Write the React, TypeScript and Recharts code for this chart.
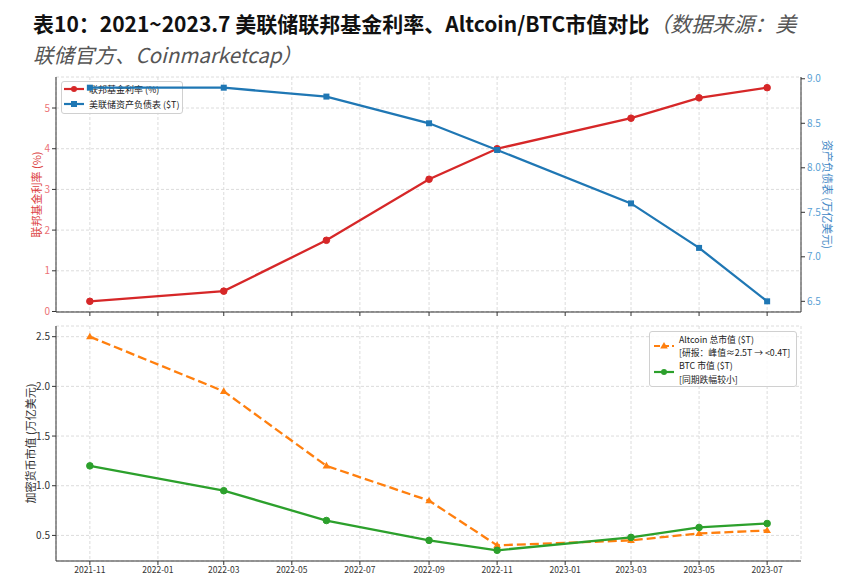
import React from 'react';
import { LineChart, Line, XAxis, YAxis, CartesianGrid } from 'recharts';

// ---------- data ----------
const months = ['2021-11', '2022-03', '2022-06', '2022-09', '2022-11', '2023-03', '2023-05', '2023-07'];
const fedRate = [0.25, 0.5, 1.75, 3.25, 4.0, 4.75, 5.25, 5.5];
const balanceSheet = [8.9, 8.9, 8.8, 8.5, 8.2, 7.6, 7.1, 6.5];
const altcoinCap = [2.5, 1.95, 1.2, 0.85, 0.4, 0.45, 0.52, 0.55];
const btcCap = [1.2, 0.95, 0.65, 0.45, 0.35, 0.48, 0.58, 0.62];

const xTickLabels = ['2021-11', '2022-01', '2022-03', '2022-05', '2022-07', '2022-09', '2022-11', '2023-01', '2023-03', '2023-05', '2023-07'];
const rateTicks = [0, 1, 2, 3, 4, 5];
const balanceTicks = [6.5, 7.0, 7.5, 8.0, 8.5, 9.0];
const cryptoTicks = [0.5, 1.0, 1.5, 2.0, 2.5];

const titleMain = '表10：2021~2023.7 美联储联邦基金利率、Altcoin/BTC市值对比';
const titleSource1 = '（数据来源：美';
const titleSource2 = '联储官方、Coinmarketcap）';
const rateLabel = '联邦基金利率 (%)';
const balanceLabel = '资产负债表 (万亿美元)';
const cryptoLabel = '加密货币市值 (万亿美元)';
const topLegend = ['联邦基金利率 (%)', '美联储资产负债表 ($T)'];
const bottomLegend = [
  ['Altcoin 总市值 ($T)', '[研报：峰值≈2.5T → <0.4T]'],
  ['BTC 市值 ($T)', '[同期跌幅较小]'],
];

// ---------- helpers ----------
const toTs = (s: string) => {
  const [y, m] = s.split('-').map(Number);
  return Date.UTC(y, m - 1, 1);
};
const data = months.map((m, i) => ({
  t: toTs(m),
  fed: fedRate[i],
  bs: balanceSheet[i],
  alt: altcoinCap[i],
  btc: btcCap[i],
}));
const xTicks = xTickLabels.map(toTs);
const tickLabelMap = new Map<number, string>(xTickLabels.map((l) => [toTs(l), l]));

const padDomain = (vals: number[]): [number, number] => {
  const lo = Math.min(...vals);
  const hi = Math.max(...vals);
  const p = (hi - lo) * 0.05;
  return [lo - p, hi + p];
};
const xDomain = padDomain(data.map((d) => d.t));
const rateDomain = padDomain(fedRate);
const balanceDomain = padDomain(balanceSheet);
const cryptoDomain = padDomain([...altcoinCap, ...btcCap]);

const FONT = '"Noto Sans CJK SC", "Noto Sans", sans-serif';
const RED = '#d62728';
const BLUE = '#1f77b4';
const ORANGE = '#ff7f0e';
const GREEN = '#2ca02c';
const SPINE = '#333333';
const GRID = '#dcdcdc';

const circleDot = (color: string, r: number) => (props: any) => {
  const { cx, cy, index } = props;
  if (cx == null || cy == null) return <g key={`c-${index}`} />;
  return <circle key={`c-${index}`} cx={cx} cy={cy} r={r} fill={color} stroke={color} strokeWidth={1} />;
};
const squareDot = (color: string, s: number) => (props: any) => {
  const { cx, cy, index } = props;
  if (cx == null || cy == null) return <g key={`s-${index}`} />;
  return <rect key={`s-${index}`} x={cx - s / 2} y={cy - s / 2} width={s} height={s} fill={color} />;
};
const triangleDot = (color: string, s: number) => (props: any) => {
  const { cx, cy, index } = props;
  if (cx == null || cy == null) return <g key={`t-${index}`} />;
  return (
    <path
      key={`t-${index}`}
      d={`M${cx},${cy - s} L${cx + s * 0.95},${cy + s * 0.65} L${cx - s * 0.95},${cy + s * 0.65} Z`}
      fill={color}
    />
  );
};

const vLabel = (text: string, x: number, y: number, color: string, angle: number) => () => (
  <text
    x={x}
    y={y}
    fill={color}
    fontSize={11}
    fontFamily={FONT}
    textAnchor="middle"
    dominantBaseline="central"
    transform={`rotate(${angle}, ${x}, ${y})`}
  >
    {text}
  </text>
);

const Handle = ({ color, marker, dashed }: { color: string; marker: 'circle' | 'square' | 'triangle'; dashed?: boolean }) => (
  <svg width={22} height={10} style={{ display: 'block' }}>
    <line x1={1} y1={5} x2={21} y2={5} stroke={color} strokeWidth={2.2} strokeDasharray={dashed ? '6 3' : undefined} />
    {marker === 'circle' && <circle cx={11} cy={5} r={3} fill={color} />}
    {marker === 'square' && <rect x={8} y={2} width={6} height={6} fill={color} />}
    {marker === 'triangle' && <path d="M11,1 L14.8,7.6 L7.2,7.6 Z" fill={color} />}
  </svg>
);

const legendLine = (text: string, left: number, top: number) => (
  <div style={{ position: 'absolute', left, top, height: 13, lineHeight: '13px', whiteSpace: 'nowrap' }}>{text}</div>
);

export default function App() {
  return (
    <div style={{ position: 'absolute', left: 0, top: 0, width: 860, height: 584, background: '#fff', fontFamily: FONT, overflow: 'hidden' }}>
      {/* title */}
      <div style={{ position: 'absolute', left: 33, top: 9, width: 820, lineHeight: '29px', fontFamily: FONT, whiteSpace: 'nowrap' }}>
        <span style={{ fontWeight: 700, color: '#111', fontSize: 21 }}>{titleMain}</span>
        <span style={{ fontStyle: 'italic', color: '#555', fontWeight: 400, fontSize: 21 }}>{titleSource1}</span>
        <br />
        <span style={{ fontStyle: 'italic', color: '#555', fontWeight: 400, fontSize: 20.5 }}>{titleSource2}</span>
      </div>

      {/* top panel, layer 1: grid, left axis, red line */}
      <div style={{ position: 'absolute', left: 0, top: 0 }}>
        <LineChart width={860} height={330} data={data} margin={{ top: 77, right: 59, bottom: 8, left: 16 }}>
          <CartesianGrid stroke={GRID} strokeDasharray="3 2" />
          <XAxis
            dataKey="t"
            type="number"
            domain={xDomain}
            ticks={xTicks}
            interval={0}
            allowDataOverflow
            height={10}
            tickSize={4}
            tickFormatter={() => ''}
            axisLine={{ stroke: SPINE }}
            tickLine={{ stroke: SPINE }}
          />
          <XAxis
            xAxisId="top"
            orientation="top"
            dataKey="t"
            type="number"
            domain={xDomain}
            allowDataOverflow
            height={0}
            tick={false}
            tickLine={false}
            axisLine={{ stroke: SPINE }}
          />
          <YAxis
            type="number"
            domain={rateDomain}
            ticks={rateTicks}
            interval={0}
            allowDataOverflow
            width={40}
            tickSize={4}
            tick={{ fill: '#ec7276', fontSize: 10, fontFamily: FONT }}
            axisLine={{ stroke: SPINE }}
            tickLine={{ stroke: SPINE }}
            label={{ content: vLabel(rateLabel, 36, 194.5, '#dc3f42', -90) }}
          />
          <Line
            dataKey="fed"
            stroke={RED}
            strokeWidth={2.3}
            dot={circleDot(RED, 3.3)}
            activeDot={false}
            isAnimationActive={false}
          />
        </LineChart>
      </div>

      {/* top legend (between layers, like matplotlib ax1 legend) */}
      <div
        style={{
          position: 'absolute',
          left: 61,
          top: 81,
          width: 122,
          height: 33,
          boxSizing: 'border-box',
          border: '1px solid #d0d0d0',
          borderRadius: 3,
          background: 'rgba(255,255,255,0.85)',
          fontSize: 9,
          color: '#222',
        }}
      >
        <div style={{ position: 'absolute', left: 1, top: 2 }}>
          <Handle color={RED} marker="circle" />
        </div>
        {legendLine(topLegend[0], 27, 1)}
        <div style={{ position: 'absolute', left: 1, top: 17 }}>
          <Handle color={BLUE} marker="square" />
        </div>
        {legendLine(topLegend[1], 27, 16)}
      </div>

      {/* top panel, layer 2: right axis, blue line */}
      <div style={{ position: 'absolute', left: 0, top: 0 }}>
        <LineChart width={860} height={330} data={data} margin={{ top: 77, right: 19, bottom: 18, left: 56 }}>
          <XAxis dataKey="t" type="number" domain={xDomain} allowDataOverflow hide />
          <YAxis
            yAxisId="r"
            orientation="right"
            type="number"
            domain={balanceDomain}
            ticks={balanceTicks}
            interval={0}
            allowDataOverflow
            width={40}
            tickSize={4}
            tickFormatter={(v: number) => v.toFixed(1)}
            tick={{ fill: '#5a9fd4', fontSize: 10, fontFamily: FONT }}
            axisLine={{ stroke: SPINE }}
            tickLine={{ stroke: SPINE }}
            label={{ content: vLabel(balanceLabel, 828, 194.5, '#3f88c5', 90) }}
          />
          <Line
            yAxisId="r"
            dataKey="bs"
            stroke={BLUE}
            strokeWidth={2.3}
            dot={squareDot(BLUE, 6)}
            activeDot={false}
            isAnimationActive={false}
          />
        </LineChart>
      </div>

      {/* bottom panel */}
      <div style={{ position: 'absolute', left: 0, top: 320 }}>
        <LineChart width={860} height={264} data={data} margin={{ top: 6, right: 59, bottom: 3, left: 16 }}>
          <CartesianGrid stroke={GRID} strokeDasharray="3 2" />
          <XAxis
            dataKey="t"
            type="number"
            domain={xDomain}
            ticks={xTicks}
            interval={0}
            allowDataOverflow
            height={20}
            tickSize={4}
            tickFormatter={(v: number) => tickLabelMap.get(v) ?? ''}
            tick={{ fill: '#333', fontSize: 8.5, fontFamily: FONT }}
            axisLine={{ stroke: SPINE }}
            tickLine={{ stroke: SPINE }}
          />
          <XAxis
            xAxisId="top"
            orientation="top"
            dataKey="t"
            type="number"
            domain={xDomain}
            allowDataOverflow
            height={0}
            tick={false}
            tickLine={false}
            axisLine={{ stroke: SPINE }}
          />
          <YAxis
            type="number"
            domain={cryptoDomain}
            ticks={cryptoTicks}
            interval={0}
            allowDataOverflow
            width={40}
            tickSize={4}
            tickFormatter={(v: number) => v.toFixed(1)}
            tick={{ fill: '#333', fontSize: 10, fontFamily: FONT }}
            axisLine={{ stroke: SPINE }}
            tickLine={{ stroke: SPINE }}
            label={{ content: vLabel(cryptoLabel, 30, 123.5, '#333', -90) }}
          />
          <YAxis
            yAxisId="r"
            orientation="right"
            type="number"
            domain={cryptoDomain}
            allowDataOverflow
            width={0}
            tick={false}
            tickLine={false}
            axisLine={{ stroke: SPINE }}
          />
          <Line
            dataKey="alt"
            stroke={ORANGE}
            strokeWidth={2.3}
            strokeDasharray="9 4"
            dot={triangleDot(ORANGE, 4)}
            activeDot={false}
            isAnimationActive={false}
          />
          <Line
            dataKey="btc"
            stroke={GREEN}
            strokeWidth={2.3}
            dot={circleDot(GREEN, 3.3)}
            activeDot={false}
            isAnimationActive={false}
          />
        </LineChart>
      </div>

      {/* bottom legend */}
      <div
        style={{
          position: 'absolute',
          left: 649,
          top: 331,
          width: 148,
          height: 56,
          boxSizing: 'border-box',
          border: '1px solid #d0d0d0',
          borderRadius: 3,
          background: 'rgba(255,255,255,0.85)',
          fontSize: 8.8,
          color: '#222',
        }}
      >
        <div style={{ position: 'absolute', left: 3, top: 9 }}>
          <Handle color={ORANGE} marker="triangle" dashed />
        </div>
        {legendLine(bottomLegend[0][0], 29, 0.5)}
        {legendLine(bottomLegend[0][1], 29, 13.7)}
        <div style={{ position: 'absolute', left: 3, top: 35 }}>
          <Handle color={GREEN} marker="circle" />
        </div>
        {legendLine(bottomLegend[1][0], 29, 27.3)}
        {legendLine(bottomLegend[1][1], 29, 40.5)}
      </div>
    </div>
  );
}
